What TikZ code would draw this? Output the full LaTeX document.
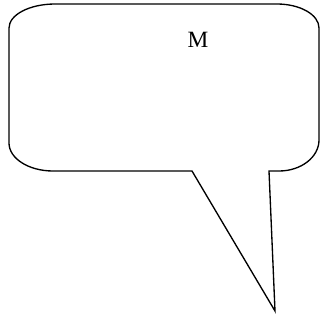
\documentclass[tikz,border=0pt]{standalone}
\usepackage{fontspec}
\setmainfont{Liberation Serif}
\usepackage{tikz}
\usetikzlibrary{positioning}

\begin{document}
\begin{tikzpicture}[
    x=0.75pt, y=-0.75pt,
    bubble/.style={draw, line width=1pt, line join=miter},
    label/.style={font=\fontsize{17.5}{20}\selectfont}
]
\useasboundingbox (0,0) rectangle (322,322);

% Tail points
\coordinate (tailL) at (192,171);
\coordinate (tip) at (275,311);
\coordinate (tailR) at (269,171);

% Bubble
\draw[bubble] (55,4) -- (277,4)
    arc[start angle=-90, end angle=0, x radius=42, y radius=24] -- (319,140)
    arc[start angle=0, end angle=90, x radius=40, y radius=31] -- (tailR)
    -- (tip) -- (tailL) -- (53,171)
    arc[start angle=90, end angle=180, x radius=44, y radius=28] -- (9,28)
    arc[start angle=180, end angle=270, x radius=46, y radius=24] -- cycle;

% Text
\node[label] (m) at (198,40) {M};
\end{tikzpicture}
\end{document}
